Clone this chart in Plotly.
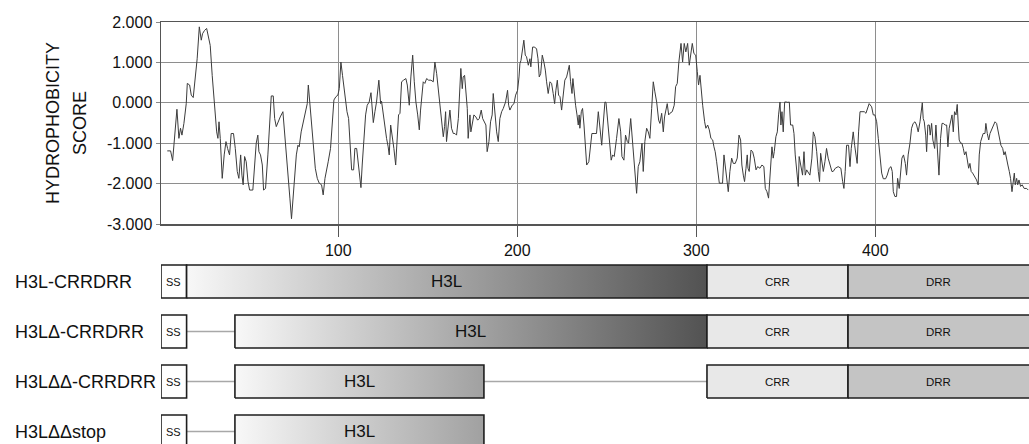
import plotly.graph_objects as go

# ---------------- hydrophobicity profile ----------------
residue = [4.5, 6.35, 7.5, 8.6, 9.9, 11.0, 11.9, 12.7, 13.8, 15.1, 15.7, 17.0, 17.9, 19.0, 20.1, 21.2, 22.4, 23.5, 24.2, 25.3,
           26.5, 27.6, 28.5, 29.6, 30.9, 32.1, 32.8, 33.4, 34.1, 35.2, 36.3, 37.3, 38.2, 39.3, 40.2, 41.5, 42.5, 43.6, 44.5, 45.5,
           46.2, 46.9, 47.7, 48.6, 49.6, 50.5, 52.3, 53.3, 54.2, 55.1, 55.7, 56.6, 57.6, 58.3, 59.4, 60.7, 61.8, 62.6, 63.7, 64.5,
           65.4, 66.3, 67.6, 69.1, 70.0, 71.0, 72.3, 73.0, 73.9, 74.7, 75.6, 76.6, 77.5, 78.2, 79.3, 80.5, 81.4, 82.7,
           83.3, 84.2, 85.3, 86.4, 87.2, 88.3, 89.4, 90.7, 91.6, 92.6, 93.5, 94.4, 95.7, 96.7, 97.6, 98.7, 99.8, 100.6, 101.5, 102.4,
           103.7, 104.9, 105.8, 106.5, 107.5, 108.6, 109.3, 110.3, 111.2, 112.1, 112.7, 113.4, 114.4, 115.3, 116.2, 117.3, 118.3, 118.8, 119.6, 120.5,
           121.4, 122.7, 123.7, 124.2, 125.2, 126.1, 127.0, 127.9, 128.5, 129.3, 130.2, 131.1, 132.1, 133.0, 133.7, 134.5, 135.4, 136.5, 137.8, 138.6,
           139.1, 139.7, 140.6, 141.6, 142.5, 143.4, 144.4, 145.3, 146.0, 146.8, 147.5, 148.4, 149.4, 150.5, 151.8, 153.1, 154.0, 155.0, 155.9, 156.8,
           157.8, 158.7, 159.4, 160.0, 160.5, 161.7, 162.4, 163.3, 164.3, 165.2, 166.1, 167.1, 168.0, 168.5, 169.3, 169.8, 170.6, 171.3, 172.1, 172.6,
           173.6, 174.1, 174.9, 175.8, 176.9, 177.9, 178.8, 179.9, 180.7, 181.6, 182.5, 183.2, 184.2, 185.1, 186.0, 186.6, 187.5, 188.5, 189.4, 190.3,
           191.3, 192.2, 193.5, 194.6, 195.2, 195.9, 197.2, 198.2, 199.1, 200.2, 201.0, 201.5, 202.1, 202.8, 203.7, 204.5, 205.2, 206.2, 207.1, 207.6,
           208.6, 209.5, 210.8, 211.6, 212.3, 213.1, 214.0, 214.9, 215.7, 216.4, 217.3, 218.3, 219.2, 220.1, 220.9, 221.6, 222.4, 223.1, 223.9, 224.8,
           225.7, 226.6, 227.6, 228.3, 229.1, 229.8, 230.6, 231.1, 231.8, 232.6, 233.4, 234.1, 234.6, 235.0, 235.8, 236.5, 237.3, 238.0, 238.8, 240.0,
           241.0, 241.7, 243.4, 244.3, 245.3, 246.2, 247.2, 248.0, 249.0, 249.6, 250.3, 251.1, 251.8, 252.5, 253.3, 254.2, 255.5, 256.8, 257.8, 258.5,
           259.6, 260.5, 261.5, 262.2, 263.4, 264.2, 265.2, 266.1, 266.7, 267.6, 268.5, 269.7, 270.4, 271.3, 272.3, 273.2, 274.1, 275.1, 276.0, 276.9,
           277.9, 279.0, 279.7, 280.7, 281.6, 282.3, 283.1, 283.8, 284.6, 285.3, 286.6, 287.7, 288.5, 289.4, 290.3, 291.5, 292.4, 293.3, 294.2, 295.2,
           296.1, 297.0, 297.8, 298.7, 299.7, 300.6, 301.3, 302.1, 302.8, 303.6, 304.7, 305.4, 306.4, 307.3, 308.2, 309.2, 309.9, 310.6, 311.4, 312.1,
           312.9, 314.0, 314.7, 315.5, 316.2, 317.0, 317.9, 318.8, 319.8, 320.7, 321.8, 322.9, 323.9, 324.8, 325.5, 326.3, 327.0, 327.8, 328.5, 328.9,
           329.6, 330.6, 331.5, 332.4, 333.4, 334.3, 335.6, 336.7, 337.8, 338.6, 339.5, 340.4, 341.3, 342.3, 343.0, 343.6, 344.5, 345.3, 346.0, 346.8,
           347.3, 347.9, 348.6, 349.4, 350.3, 351.2, 352.0, 352.7, 353.9, 354.6, 355.3, 356.1, 357.0, 357.5, 358.5, 359.4, 360.2, 360.9, 361.7, 362.6,
           363.5, 364.6, 365.4, 366.3, 367.3, 368.2, 368.9, 369.5, 370.2, 371.0, 371.9, 372.8, 373.7, 374.7, 375.8, 376.5, 377.7, 379.3, 380.8, 381.8,
           382.5, 383.2, 384.0, 385.1, 385.9, 386.6, 387.7, 388.5, 389.2, 389.9, 390.7, 391.5, 392.6, 393.9, 394.8, 395.8, 396.6, 398.0, 398.9, 399.8,
           400.8, 401.7, 402.6, 403.6, 404.5, 405.8, 406.7, 407.8, 408.8, 409.5, 410.1, 411.0, 411.9, 412.5, 413.4, 414.2, 414.9, 415.8, 416.8, 417.5,
           418.4, 419.4, 420.3, 421.2, 422.2, 423.1, 424.0, 425.0, 425.7, 426.3, 426.8, 427.4, 428.2, 428.7, 429.4, 430.2, 430.7, 431.5, 432.2, 433.2,
           433.9, 434.8, 435.6, 436.5, 437.3, 438.0, 439.1, 439.9, 440.6, 441.3, 442.1, 442.9, 443.6, 444.3, 445.1, 445.8, 446.4, 446.9, 447.7, 448.4,
           449.2, 449.9, 450.7, 451.4, 452.2, 452.9, 453.6, 454.4, 455.1, 455.9, 456.6, 457.5, 458.1, 458.9, 459.6, 460.3, 461.3, 461.8, 462.6, 463.4,
           464.1, 465.0, 465.9, 466.9, 467.8, 468.4, 469.3, 470.2, 471.2, 471.9, 472.6, 473.4, 474.1, 474.9, 475.6, 476.4, 477.1, 477.7, 478.2, 479.0,
           479.6, 480.3, 481.2, 482.1, 483.2, 484.6, 485.5]
score = [-1.19, -1.19, -1.43, -0.92, -0.16, -0.88, -0.63, -0.80, -0.51, -0.02, 0.48, 0.44, 0.19, 0.13, 0.60, 1.09, 1.88, 1.55, 1.71, 1.79,
         1.84, 1.55, 1.42, 0.68, -0.14, -0.72, -0.88, -0.47, -0.88, -1.87, -1.29, -0.96, -1.13, -1.29, -0.76, -0.76, -1.13, -1.70, -1.87, -1.29,
         -1.79, -2.03, -1.33, -1.46, -1.95, -2.16, -2.16, -1.46, -1.00, -0.80, -1.21, -1.29, -1.54, -2.16, -2.12, -1.29, -0.30, 0.17, 0.17, -0.39,
         -0.59, -0.47, -0.35, -0.22, -0.67, -1.29, -1.95, -2.36, -2.87, -2.44, -1.79, -1.29, -1.05, -1.09, -0.72, -0.47, -0.22, -0.02,
         0.44, -0.02, -0.55, -1.21, -1.62, -1.87, -1.99, -2.03, -2.28, -1.87, -1.70, -1.46, -1.13, -0.47, 0.07, 0.15, 0.19, 0.35, 1.01, 0.68,
         0.19, -0.22, -0.39, -0.96, -1.66, -1.66, -1.13, -1.13, -1.54, -1.95, -2.10, -1.54, -0.88, -0.30, -0.06, 0.02, 0.25, 0.02, -0.49, -0.22,
         0.02, 0.56, -0.02, 0.04, -0.30, -0.63, -0.88, -1.09, -1.29, -0.55, -0.80, -1.13, -1.54, -0.96, -0.30, -0.26, 0.52, 0.56, 0.60, 0.44,
         0.11, -0.06, 0.64, 1.18, 0.52, 0.02, -0.30, -0.67, -0.18, 0.31, 0.52, 0.48, 0.60, 0.56, 0.56, 0.52, 1.01, 0.72, 0.31, -0.06,
         -0.55, -0.84, -0.59, -0.22, -0.96, -0.55, -0.18, -0.63, -0.76, -0.76, -0.80, -0.39, 0.27, 0.85, 0.35, 0.64, 0.68, 0.35, -0.14, -0.88,
         -0.30, -0.72, -0.55, -0.30, -0.35, -0.43, -0.39, -0.18, -0.39, -0.47, -0.55, -1.21, -0.96, -0.47, -0.30, 0.23, -0.22, -0.72, -0.96, -0.39,
         -0.22, -0.14, 0.02, 0.31, -0.06, -0.18, -0.06, -0.02, 0.19, 0.31, 0.64, 0.97, 1.05, 1.26, 1.55, 1.18, 1.14, 0.93, 1.09, 0.89,
         1.38, 1.38, 1.34, 1.09, 0.64, 0.72, 1.18, 1.01, 0.81, 0.52, 0.23, 0.52, 0.48, 0.23, -0.02, 0.31, 0.56, 0.19, 0.15, -0.18,
         0.27, 0.56, 0.64, 0.81, 0.93, 0.52, 0.23, 0.60, 0.19, -0.06, -0.30, -0.55, -0.30, -0.63, -0.22, -0.14, -0.55, -0.96, -1.54, -1.46,
         -1.00, -0.76, -0.76, -0.76, -0.22, -0.55, -1.05, -0.55, 0.02, 0.01, -0.30, -0.72, -1.13, -1.42, -1.29, -1.33, -0.88, -0.39, -0.72, -1.33,
         -1.42, -0.80, -0.96, -1.00, -0.39, -0.80, -1.37, -1.79, -2.24, -1.58, -1.46, -1.00, -1.70, -0.96, -0.63, -0.72, -0.88, -0.14, 0.52, 0.27,
         0.02, -0.43, -0.51, -0.26, -0.72, -0.35, -0.14, -0.02, -0.30, -0.26, -0.22, -0.06, 0.40, 0.48, 1.01, 1.47, 1.01, 1.47, 1.26, 1.47,
         0.93, 1.22, 1.47, 1.22, 1.18, 0.77, 0.44, 0.68, 0.23, -0.06, -0.47, -0.63, -0.55, -0.67, -0.88, -0.92, -1.09, -1.21, -1.46, -1.79,
         -1.99, -1.99, -1.99, -1.29, -1.54, -1.95, -2.20, -1.70, -1.37, -1.50, -1.50, -1.37, -0.80, -0.92, -1.54, -1.79, -1.95, -1.62, -1.29, -1.62,
         -1.70, -1.17, -1.21, -1.37, -1.66, -1.58, -1.62, -1.54, -1.58, -2.12, -2.20, -2.36, -1.70, -1.09, -1.37, -1.21, -0.84, -0.72, -0.30, 0.02,
         -0.55, -0.22, -0.72, 0.02, 0.02, 0.01, 0.02, -0.55, -0.55, -0.76, -1.29, -1.70, -2.07, -1.33, -1.62, -1.79, -1.21, -1.79, -1.66, -1.74,
         -1.79, -1.37, -0.72, -0.84, -1.21, -1.70, -1.95, -1.25, -1.54, -1.70, -1.46, -1.13, -1.37, -1.54, -1.70, -1.70, -1.62, -1.58, -1.62, -1.95,
         -2.12, -1.70, -1.05, -1.05, -1.58, -1.13, -0.72, -1.05, -1.29, -1.50, -0.72, -0.22, -0.22, -0.22, -0.26, -0.10, -0.02, -0.10, -0.30, -0.30,
         -0.47, -0.88, -1.29, -1.74, -1.88, -1.88, -1.79, -1.62, -1.58, -1.70, -2.20, -2.32, -2.32, -1.87, -2.12, -1.70, -1.37, -1.29, -1.50, -1.79,
         -1.29, -1.00, -0.63, -0.51, -0.47, -0.55, -0.72, -0.47, -0.22, 0.00, -0.39, -0.47, -0.80, -1.21, -0.55, -0.55, -0.80, -0.51, -0.92, -1.13,
         -0.55, -1.29, -1.79, -0.88, -0.51, -0.51, -0.55, -0.55, -1.09, -0.63, -0.47, -0.30, -0.72, -0.22, -0.30, -0.04, -0.55, -0.92, -1.00, -1.00,
         -1.13, -1.29, -1.21, -1.46, -1.62, -1.50, -1.70, -1.74, -1.79, -1.87, -1.91, -2.03, -1.29, -0.96, -0.84, -0.76, -0.76, -0.51, -0.76, -0.92,
         -0.76, -0.67, -0.59, -0.47, -0.51, -0.63, -0.88, -1.05, -1.13, -1.29, -1.21, -1.42, -1.54, -1.70, -1.87, -2.20, -1.95, -1.74, -2.03, -1.87,
         -2.03, -1.91, -2.07, -2.03, -2.12, -2.12, -2.16]

x_range = [1, 485.9]
x_ticks = [100, 200, 300, 400]
y_ticks = [-3, -2, -1, 0, 1, 2]
y_tick_labels = ["-3.000", "-2.000", "-1.000", "0.000", "1.000", "2.000"]

# ---------------- construct diagrams ----------------
constructs = ["H3L-CRRDRR", "H3LΔ-CRRDRR", "H3LΔΔ-CRRDRR", "H3LΔΔstop"]
ss_span = [1, 15.3]
h3l_start = [15.3, 42.3, 42.3, 42.3]
h3l_end = [306, 306, 181.4, 181.4]
crr_span = [[306, 384.8], [306, 384.8], [306, 384.8], None]
drr_span = [[384.8, 495], [384.8, 495], [384.8, 495], None]

FONT = "Liberation Sans, Arial, sans-serif"
BOX_H = 0.33
fig = go.Figure()

fig.add_trace(go.Scatter(x=residue, y=score, mode="lines",
                         line=dict(color="#3c3c3c", width=1),
                         xaxis="x", yaxis="y", showlegend=False, hoverinfo="skip"))


def box(x0, x1, yc, fill=None, grad=None, grad_start=None, grad_stop=None):
    kw = dict(x=[x0, x1, x1, x0, x0], y=[yc - BOX_H, yc - BOX_H, yc + BOX_H, yc + BOX_H, yc - BOX_H],
              mode="lines", fill="toself", line=dict(color="#1e1e1e", width=1.6),
              xaxis="x2", yaxis="y2", showlegend=False, hoverinfo="skip")
    if grad is not None:
        kw["fillgradient"] = dict(type="horizontal", colorscale=grad, start=grad_start, stop=grad_stop)
    else:
        kw["fillcolor"] = fill
    fig.add_trace(go.Scatter(**kw))


def connector(x0, x1, yc):
    fig.add_trace(go.Scatter(x=[x0, x1], y=[yc, yc], mode="lines", line=dict(color="#a8a8a8", width=1.5),
                             xaxis="x2", yaxis="y2", showlegend=False, hoverinfo="skip"))


annotations = []
grad_scale = [[0, "#f8f8f8"], [1, "#525252"]]
for i, name in enumerate(constructs):
    yc = -i
    if h3l_start[i] > ss_span[1]:
        connector(ss_span[1], h3l_start[i], yc)
    if crr_span[i] is not None and crr_span[i][0] > h3l_end[i]:
        connector(h3l_end[i], crr_span[i][0], yc)
    box(ss_span[0], ss_span[1], yc, fill="#ffffff")
    annotations.append(dict(x=(ss_span[0] + ss_span[1]) / 2, y=yc, xref="x2", yref="y2", text="SS",
                            xanchor="center", yanchor="middle",
                            showarrow=False, font=dict(family=FONT, size=11, color="#111")))
    box(h3l_start[i], h3l_end[i], yc, grad=grad_scale, grad_start=h3l_start[i], grad_stop=306)
    annotations.append(dict(x=(h3l_start[i] + h3l_end[i]) / 2, y=yc, xref="x2", yref="y2", text="H3L",
                            xanchor="center", yanchor="middle",
                            showarrow=False, font=dict(family=FONT, size=17, color="#111")))
    if crr_span[i] is not None:
        box(crr_span[i][0], crr_span[i][1], yc, fill="#e8e8e8")
        annotations.append(dict(x=sum(crr_span[i]) / 2, y=yc, xref="x2", yref="y2", text="CRR",
                                xanchor="center", yanchor="middle",
                                showarrow=False, font=dict(family=FONT, size=11.5, color="#111")))
    if drr_span[i] is not None:
        box(drr_span[i][0], drr_span[i][1], yc, fill="#c4c4c4")
        annotations.append(dict(x=(drr_span[i][0] + min(drr_span[i][1], x_range[1])) / 2, y=yc,
                                xref="x2", yref="y2", text="DRR", xanchor="center", yanchor="middle",
                                showarrow=False, font=dict(family=FONT, size=11.5, color="#111")))
    annotations.append(dict(x=13 / 1029, y=yc, xref="paper", yref="y2", text=name,
                            xanchor="left", yanchor="middle",
                            showarrow=False, font=dict(family=FONT, size=18, color="#111")))

annotations.append(dict(x=53 / 1029, y=0.723, xref="paper", yref="paper", text="HYDROPHOBICITY",
                        xanchor="center", yanchor="middle",
                        textangle=-90, showarrow=False, font=dict(family=FONT, size=18, color="#111")))
annotations.append(dict(x=80 / 1029, y=0.723, xref="paper", yref="paper", text="SCORE",
                        xanchor="center", yanchor="middle",
                        textangle=-90, showarrow=False, font=dict(family=FONT, size=18, color="#111")))

x_dom = [161 / 1029, 1]
fig.update_layout(
    width=1029, height=444, margin=dict(l=0, r=0, t=0, b=0, pad=0), autosize=False,
    paper_bgcolor="white", plot_bgcolor="white",
    font=dict(family=FONT, color="#111"),
    xaxis=dict(domain=x_dom, range=x_range, tickvals=x_ticks, showgrid=True, gridcolor="#8e8e8e", gridwidth=1,
               ticks="outside", ticklen=11, tickcolor="#555", tickwidth=1.2,
               showline=True, linecolor="#555", linewidth=1.5, mirror=True, zeroline=False,
               tickfont=dict(size=16, color="#111"), anchor="y", automargin=False),
    yaxis=dict(domain=[220 / 444, 422 / 444], range=[-3, 2], tickvals=y_ticks, ticktext=y_tick_labels,
               showgrid=True, gridcolor="#8e8e8e", gridwidth=1, ticks="outside", ticklen=4, tickcolor="#888",
               showline=True, linecolor="#555", linewidth=1.5, zeroline=False,
               tickfont=dict(size=16, color="#111"), anchor="x", automargin=False),
    xaxis2=dict(domain=x_dom, range=x_range, visible=False, anchor="y2"),
    yaxis2=dict(domain=[0, 182 / 444], range=[-3.25, 0.39], visible=False, anchor="x2"),
    annotations=annotations,
)

fig.write_html("out.html", config={"displayModeBar": False, "staticPlot": True},
               post_script="document.body.style.margin='0';document.body.style.overflow='hidden';")
